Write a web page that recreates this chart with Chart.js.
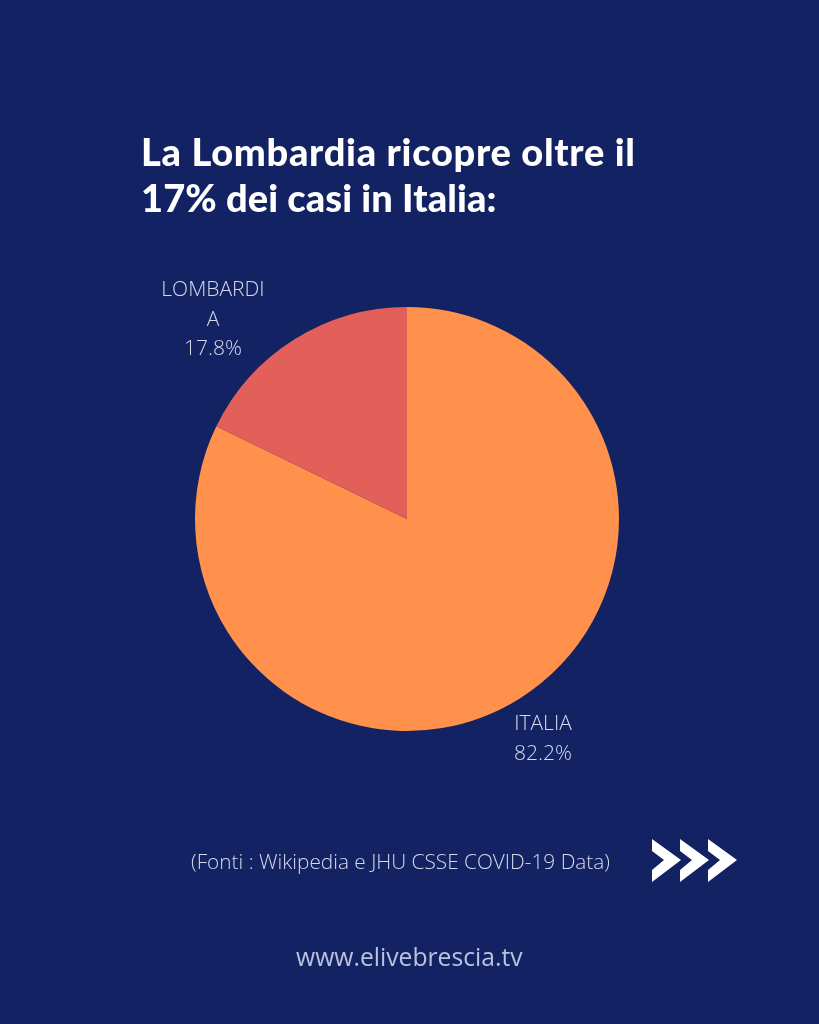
<!DOCTYPE html>
<html>
<head>
<meta charset="utf-8">
<script src="https://cdn.jsdelivr.net/npm/chart.js@4"></script>
<style>
    html, body { margin: 0; padding: 0; background: #132263; }
    #page { position: relative; width: 819px; height: 1024px; overflow: hidden; background: #132263; }
    #pie { position: absolute; left: 0; top: 0; }
    .txt { position: absolute; white-space: nowrap; }
    #title { left: 141px; top: 128px; color: #fff; font: 900 38px/46px Lato, sans-serif; letter-spacing: 0.7px; }
    #title span { letter-spacing: 0.1px; }
    .lab { color: #d5d9e8; font: 300 21px/29.5px "Open Sans", sans-serif; text-align: center; transform: translateX(-50%); }
    #source { left: 191px; top: 847px; color: #d5d9e8; font: 300 20.8px/28px "Open Sans", sans-serif; }
    #site { left: 296px; top: 941px; color: #b9c2de; font: 400 24.7px/32px "Open Sans", sans-serif; }
    #arrows { position: absolute; left: 650px; top: 836px; }
</style>
</head>
<body>
<div id="page">
    <canvas id="pie" width="819" height="1024"></canvas>
    <div id="title" class="txt">La Lombardia ricopre oltre il<br><span>17% dei casi in Italia:</span></div>
    <div id="labels"></div>
    <div id="source" class="txt">(Fonti : Wikipedia e JHU CSSE COVID-19 Data)</div>
    <svg id="arrows" width="90" height="50" fill="#fff">
        <polygon points="2,3 31,24 2,46 2,34 14,24 2,15"/>
        <polygon points="30,3 59,24 30,46 30,34 42,24 30,15"/>
        <polygon points="58,3 87,24 58,46 58,34 70,24 58,15"/>
    </svg>
    <div id="site" class="txt">www.elivebrescia.tv</div>
</div>
<script>
// Pie data
const categories = ['ITALIA', 'LOMBARDIA'];
const values = [82.2, 17.8];
const colors = ['#FF914D', '#E25F5A'];

// Label text as it wraps in the picture
const labelLines = [['ITALIA', '82.2%'], ['LOMBARDI', 'A', '17.8%']];
const labelSpots = [[543, 708], [213, 274]];

const labelsBox = document.getElementById('labels');
labelLines.forEach((lines, i) => {
    const div = document.createElement('div');
    div.className = 'txt lab';
    div.style.left = labelSpots[i][0] + 'px';
    div.style.top = labelSpots[i][1] + 'px';
    div.innerHTML = lines.join('<br>');
    labelsBox.appendChild(div);
});

// Pie takes the whole page, padding puts it in place
new Chart(document.getElementById('pie').getContext('2d'), {
    type: 'pie',
    data: {
        labels: categories,
        datasets: [{
            data: values,
            backgroundColor: colors,
            borderWidth: 0
        }]
    },
    options: {
        responsive: false,
        animation: false,
        layout: { padding: { left: 195, right: 200, top: 307, bottom: 293 } },
        plugins: {
            legend: { display: false },
            tooltip: { enabled: false }
        }
    }
});
</script>
</body>
</html>
